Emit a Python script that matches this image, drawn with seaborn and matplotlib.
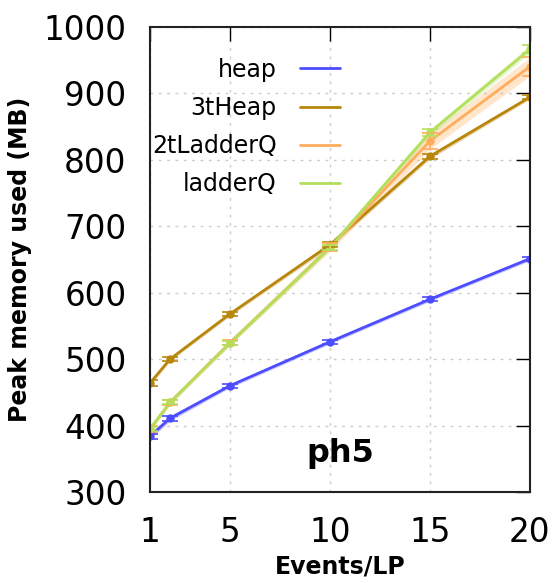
import matplotlib
matplotlib.use("Agg")
import matplotlib.pyplot as plt
import seaborn as sns
import pandas as pd
import numpy as np
from matplotlib.lines import Line2D

sns.set_theme(style="white")
plt.rcParams['font.family'] = ['DejaVu Sans']
plt.rcParams.update({"text.color": "black", "axes.labelcolor": "black",
                     "xtick.color": "black", "ytick.color": "black"})

events = [1, 2, 5, 10, 15, 20]
heap = [384, 411, 460, 526, 590, 651]
heap_err = [4, 4, 3, 3, 3, 3]
three_t_heap = [464, 500, 568, 672, 805, 894]
three_t_heap_err = [4, 3, 3, 4, 4, 3]
two_t_ladderq = [395, 435, 525, 668, 828, 940]
two_t_ladderq_err = [4, 4, 4, 6, 12, 14]
ladderq = [395, 435, 524, 668, 841, 966]
ladderq_err = [3, 3, 3, 4, 5, 6]

names = ["heap", "3tHeap", "2tLadderQ", "ladderQ"]
series = [heap, three_t_heap, two_t_ladderq, ladderq]
errs = [heap_err, three_t_heap_err, two_t_ladderq_err, ladderq_err]
colors = ["#4d4dff", "#b8860b", "#ffad5c", "#b2e05c"]

rows = []
for n, s in zip(names, series):
    for x, y in zip(events, s):
        rows.append({"Events/LP": x, "mem": y, "impl": n})
df = pd.DataFrame(rows)

fig = plt.figure(figsize=(5.6, 5.83), dpi=100)
ax = fig.add_axes([0.268, 0.156, 0.678, 0.798])

for n, s, e, c in zip(names, series, errs, colors):
    s = np.array(s); e = np.array(e)
    ax.fill_between(events, s - e, s + e, color=c, alpha=0.3, lw=0)
sns.lineplot(data=df, x="Events/LP", y="mem", hue="impl", palette=colors,
             hue_order=names, ax=ax, lw=2, marker="o", markersize=6,
             markeredgewidth=0, legend=False)
for n, s, e, c in zip(names, series, errs, colors):
    ax.errorbar(events, s, yerr=e, fmt="none", ecolor=c, capsize=6, elinewidth=1.2, capthick=1.2)

handles = [Line2D([0], [0], color=c, lw=2) for c in colors]
leg = ax.legend(handles, names, loc="upper right", markerfirst=False, frameon=False,
                fontsize=17, handlelength=1.7, bbox_to_anchor=(0.526, 0.954),
                labelspacing=0.6, handletextpad=1.0, borderaxespad=0)

ax.set_xlim(1, 20)
ax.set_ylim(300, 1000)
ax.set_xticks([1, 5, 10, 15, 20])
ax.set_yticks(range(300, 1001, 100))
ax.tick_params(axis="both", direction="in", length=10, width=1, labelsize=23.5,
               top=True, right=True, pad=17, colors="black")
ax.grid(True, linestyle=(0, (2, 4)), color="#cccccc", lw=1)
for sp in ax.spines.values():
    sp.set_color("#222222"); sp.set_linewidth(1.5); sp.set_visible(True)
ax.set_xlabel("Events/LP", fontsize=17, fontweight="bold", labelpad=4)
ax.set_ylabel("Peak memory used (MB)", fontsize=17, fontweight="bold", labelpad=8)
ax.text(0.5, 0.065, "ph5", transform=ax.transAxes, fontsize=23, fontweight="bold",
        ha="center", va="baseline")

fig.savefig("out.png", dpi=100)
